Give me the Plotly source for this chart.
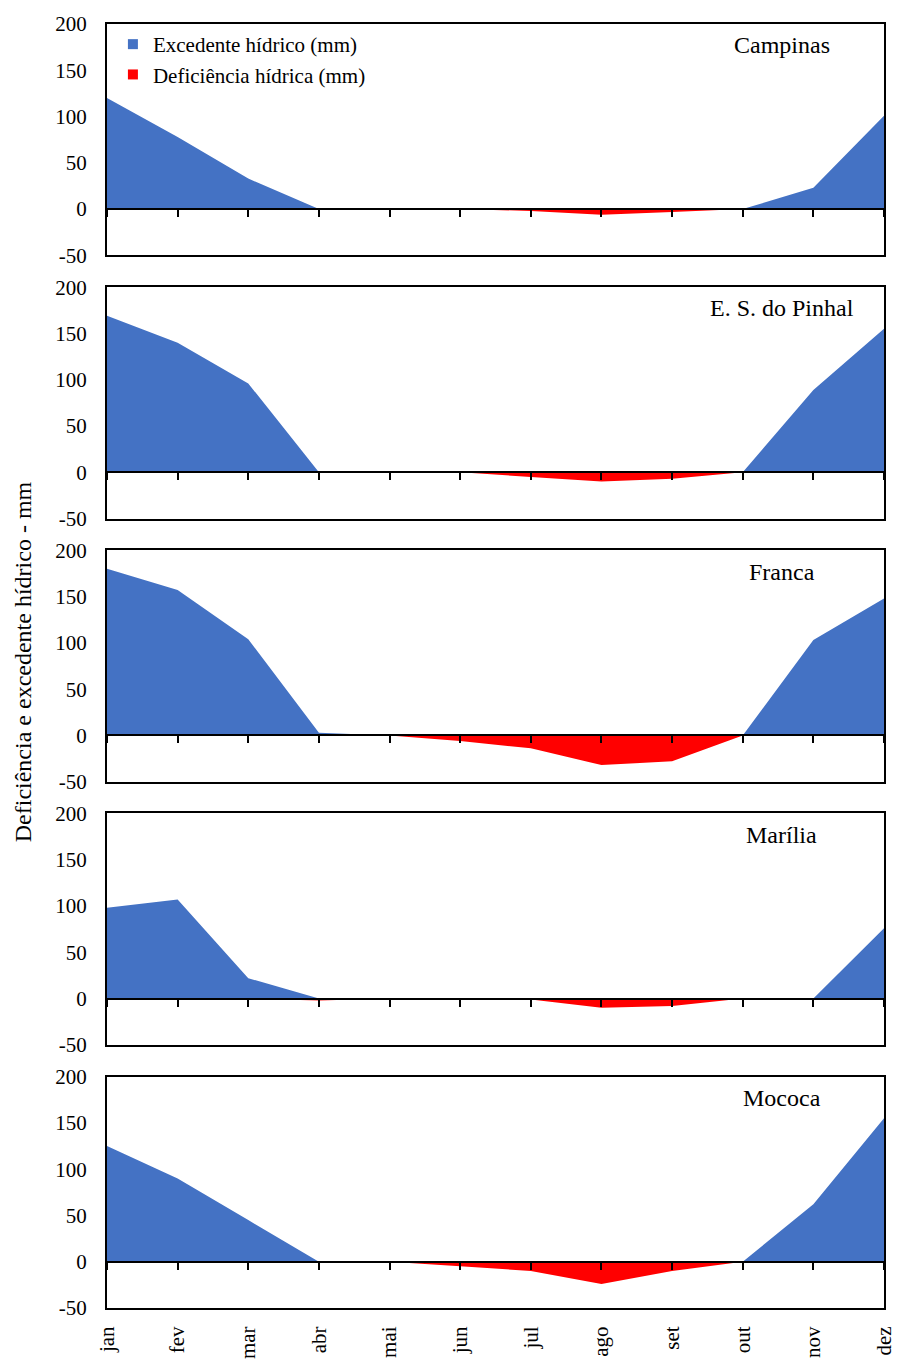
import plotly.graph_objects as go

# Monthly water balance (mm) for five stations in São Paulo state
months = ["jan", "fev", "mar", "abr", "mai", "jun", "jul", "ago", "set", "out", "nov", "dez"]
stations = ["Campinas", "E. S. do Pinhal", "Franca", "Marília", "Mococa"]

campinas_exc = [120, 78, 33, 0, 0, 0, 0, 0, 0, 0, 23, 101]
campinas_def = [0, 0, 0, 0, 0, 0, -2, -6, -3, 0, 0, 0]

pinhal_exc = [169, 140, 96, 0, 0, 0, 0, 0, 0, 0, 89, 155]
pinhal_def = [0, 0, 0, 0, 0, 0, -5, -10, -7, 0, 0, 0]

franca_exc = [180, 157, 104, 3, 0, 0, 0, 0, 0, 0, 103, 148]
franca_def = [0, 0, 0, 0, 0, -6, -14, -32, -28, 0, 0, 0]

marilia_exc = [98, 107, 22, 0, 0, 0, 0, 0, 0, 0, 0, 76]
marilia_def = [0, 0, 0, -2, 0, 0, -1, -10, -8, 0, 0, 0]

mococa_exc = [125, 90, 45, 0, 0, 0, 0, 0, 0, 0, 62, 155]
mococa_def = [0, 0, 0, 0, 0, -5, -10, -24, -10, 0, 0, 0]

excedente = [campinas_exc, pinhal_exc, franca_exc, marilia_exc, mococa_exc]
deficiencia = [campinas_def, pinhal_def, franca_def, marilia_def, mococa_def]

y_ticks = [-50, 0, 50, 100, 150, 200]
y_ticktext = ["-50", "0", "50", "100", "150", "200"]
Y_MIN, Y_MAX = -50, 200

BLUE = "#4472C4"
RED = "#FF0000"
SERIF = "Liberation Serif, Times New Roman, serif"

W, H = 908, 1371
M_L, M_R, M_T, M_B = 107, 13, 20, 47
plot_w = W - M_L - M_R
plot_h = H - M_T - M_B
panel_px = 235
gap_px = (plot_h - 5 * panel_px) / 4

x_idx = list(range(len(months)))
fig = go.Figure()
layout = dict()
n = len(stations)

for i in range(n):
    top = 1 - i * (panel_px + gap_px) / plot_h
    bottom = top - panel_px / plot_h
    xa, ya, xz = f"x{i + 1}", f"y{i + 1}", f"x{i + 1 + n}"
    xk = "xaxis" if i == 0 else f"xaxis{i + 1}"
    yk = "yaxis" if i == 0 else f"yaxis{i + 1}"

    fig.add_trace(go.Scatter(
        x=x_idx, y=excedente[i], mode="none", fill="tozeroy",
        fillcolor=BLUE, xaxis=xa, yaxis=ya, showlegend=False,
        name="Excedente hídrico (mm)"))
    fig.add_trace(go.Scatter(
        x=x_idx, y=deficiencia[i], mode="none", fill="tozeroy",
        fillcolor=RED, xaxis=xz, yaxis=ya, showlegend=False,
        name="Deficiência hídrica (mm)"))

    is_last = i == n - 1
    layout[xk] = dict(
        domain=[0, 1], range=[0, 11], anchor=ya,
        showline=True, linecolor="black", linewidth=2, mirror=True,
        tickvals=x_idx, ticktext=months, showticklabels=is_last,
        tickangle=-90, ticks="outside" if is_last else "", ticklen=8,
        tickcolor="rgba(0,0,0,0)",
        tickfont=dict(family=SERIF, size=21, color="black"),
        showgrid=False, zeroline=False)
    layout[yk] = dict(
        domain=[bottom, top], range=[Y_MIN, Y_MAX], anchor=xa,
        tickvals=y_ticks, ticktext=y_ticktext,
        showline=True, linecolor="black", linewidth=2,
        mirror=True, ticks="outside", ticklen=14, tickcolor="rgba(0,0,0,0)",
        tickfont=dict(family=SERIF, size=21, color="black"),
        showgrid=False, zeroline=False)
    # axis through y = 0 carrying the month tick marks
    zero_pos = bottom + (0 - Y_MIN) / (Y_MAX - Y_MIN) * (top - bottom)
    layout[f"xaxis{i + 1 + n}"] = dict(
        domain=[0, 1], range=[0, 11], overlaying=xa, anchor="free",
        position=zero_pos, showline=True, linecolor="black", linewidth=2,
        tickvals=x_idx, ticks="outside", ticklen=7, tickwidth=2,
        tickcolor="black", showticklabels=False, showgrid=False,
        zeroline=False)

    fig.add_annotation(
        x=9.55, y=177, xref=xa, yref=ya, text=stations[i], showarrow=False,
        font=dict(family=SERIF, size=24, color="black"))

# legend entries
fig.add_trace(go.Scatter(
    x=[None], y=[None], mode="markers", name="Excedente hídrico (mm)",
    marker=dict(symbol="square", size=10, color=BLUE)))
fig.add_trace(go.Scatter(
    x=[None], y=[None], mode="markers", name="Deficiência hídrica (mm)",
    marker=dict(symbol="square", size=10, color=RED)))

fig.add_annotation(
    x=(22 - M_L) / plot_w, y=1 - (668 - M_T) / plot_h,
    xref="paper", yref="paper", xanchor="center", yanchor="middle",
    text="Deficiência e excedente hídrico - mm",
    textangle=-90, showarrow=False,
    font=dict(family=SERIF, size=24, color="black"))

fig.update_layout(
    width=W, height=H,
    margin=dict(l=M_L, r=M_R, t=M_T, b=M_B),
    paper_bgcolor="white", plot_bgcolor="white",
    showlegend=True,
    legend=dict(x=6 / plot_w, y=1.0, xanchor="left", yanchor="top",
                bgcolor="rgba(0,0,0,0)",
                font=dict(family=SERIF, size=21, color="black")),
    **layout)

fig.write_html("out.html")
